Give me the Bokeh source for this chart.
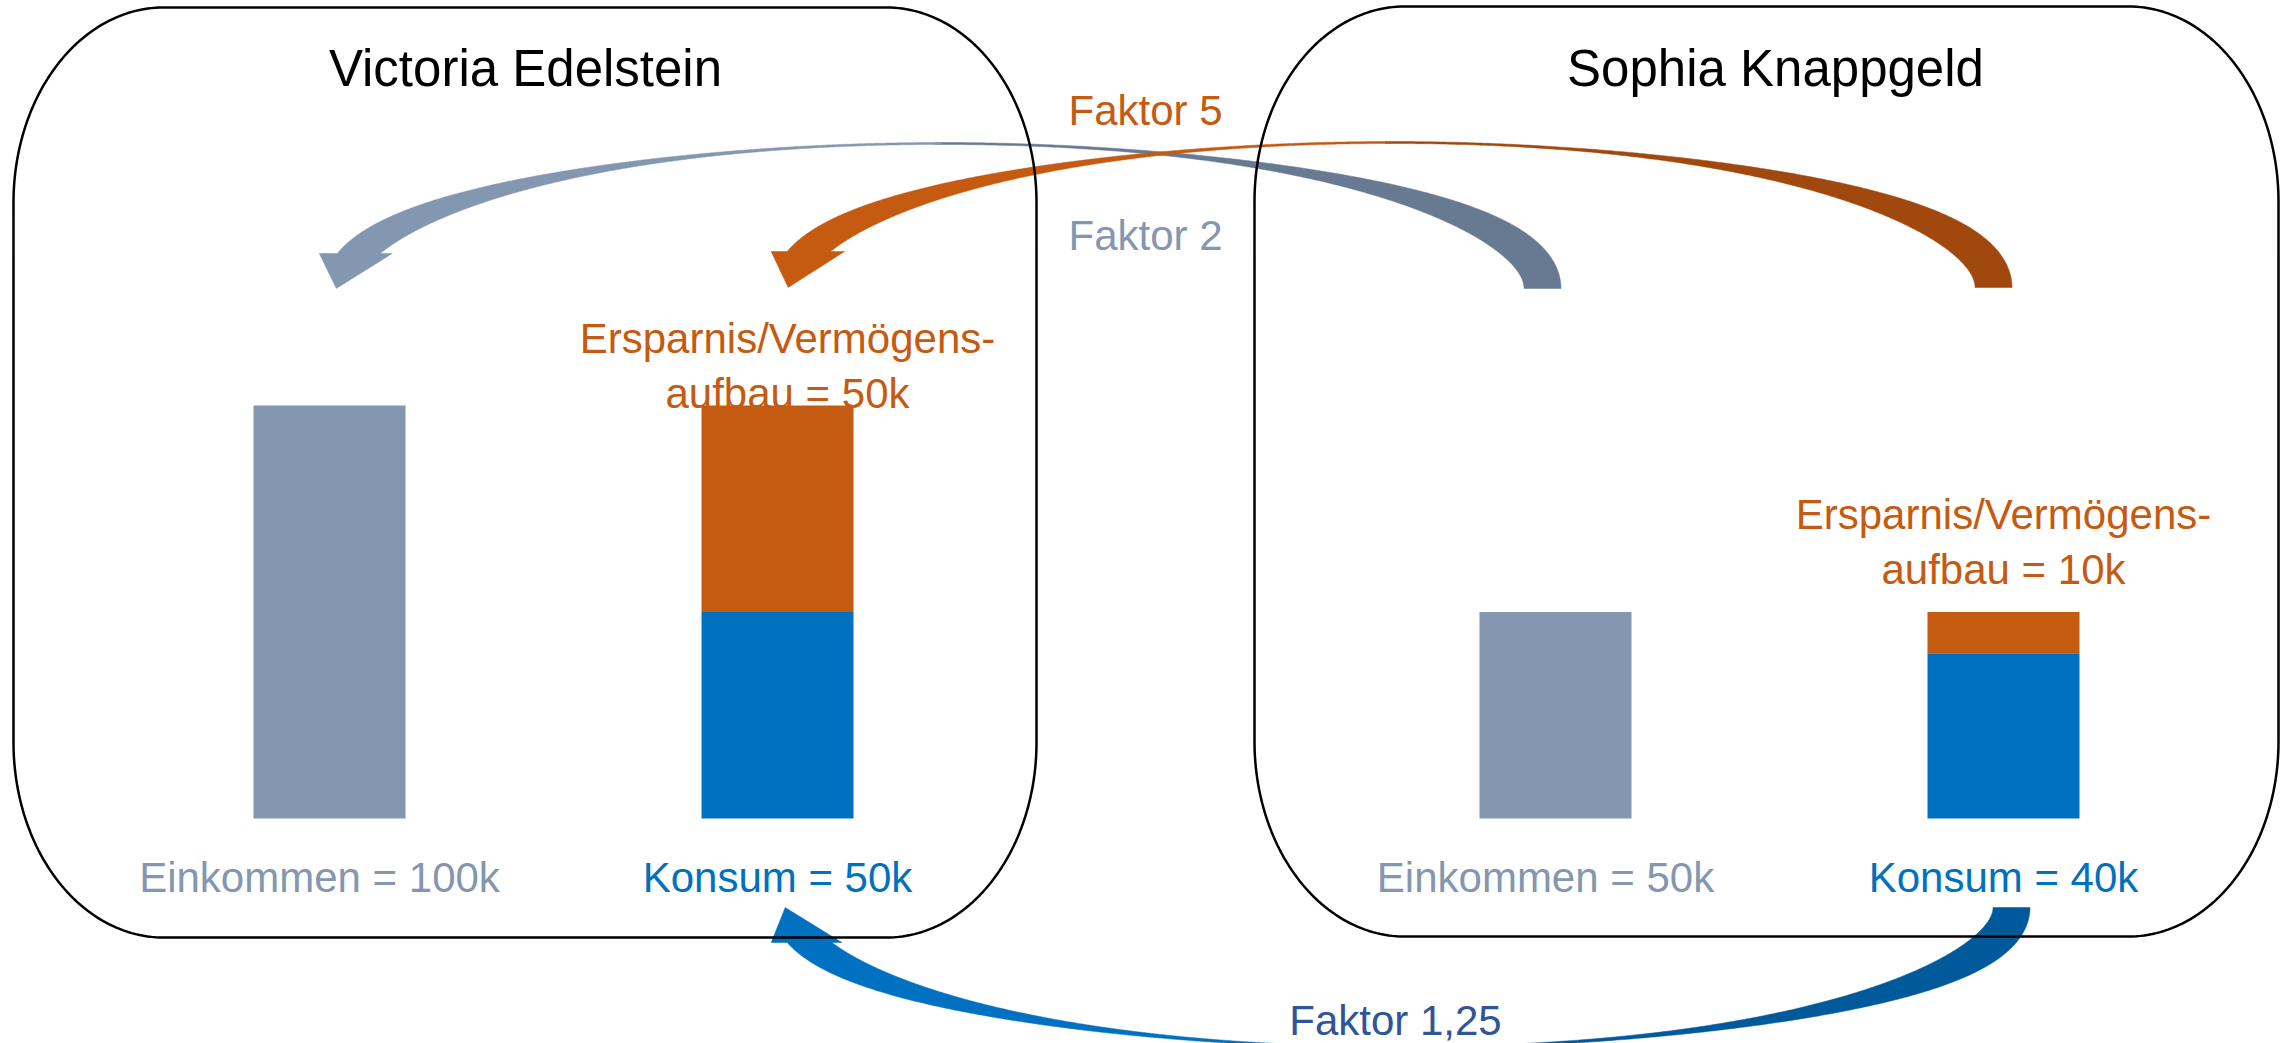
import numpy as np
from bokeh.plotting import figure
from bokeh.models import Range1d
from bokeh.core.properties import value
from bokeh.embed import file_html
from bokeh.resources import INLINE

# ---------------- data ----------------
persons = ["Victoria Edelstein", "Sophia Knappgeld"]
einkommen = [100, 50]          # k
konsum = [50, 40]              # k
ersparnis = [50, 10]           # k
factor_labels = ["Faktor 5", "Faktor 2", "Faktor 1,25"]

# ---------------- layout / style ----------------
FONT = value("Liberation Sans")
GREY, GREY_D = "#8497B0", "#687A92"
ORANGE, ORANGE_D = "#C55A11", "#A0480E"
BLUE, BLUE_D = "#0070C0", "#00599A"
NAVY = "#2F5597"

W, H = 2286, 1043
BASE_PIX, PIX_PER_K = 818.0, 4.13
ein_x = [329, 1555]
kon_x = [777, 2003]
bar_w = 152

p = figure(width=W, height=H, output_backend="svg", toolbar_location=None,
           x_range=Range1d(0, W), y_range=Range1d(H, 0),
           x_axis_type=None, y_axis_type=None, min_border=0,
           background_fill_color="white", border_fill_color="white")
p.outline_line_color = None
p.grid.visible = False
p.extra_y_ranges = {"val": Range1d(start=(BASE_PIX - H) / PIX_PER_K,
                                   end=BASE_PIX / PIX_PER_K)}


def arrow(cx, base, a, b, sgn, w0, w_tail, w_head, k, head_dy, hl, hr, tip_dx):
    def edges(theta, w1):
        c, s = np.cos(theta), np.sin(theta)
        xc = cx + a * c
        nx, ny = c / a, s / b
        nn = np.hypot(nx, ny)
        nx, ny = nx / nn, ny / nn
        w = w0 + (w1 - w0) * np.abs(c) ** k
        xo = xc + w / 2 * nx
        yo = base + sgn * (b * s + w / 2 * ny)
        xi = xc - w / 2 * nx
        yi = base + sgn * (b * s - w / 2 * ny)
        return xo, yo, xi, yi

    def trunc(x, y):
        d = sgn * (y - base)
        idx = np.where(d < head_dy)[0]
        if len(idx) == 0:
            return x, y
        j = idx[0]
        t = (d[j - 1] - head_dy) / (d[j - 1] - d[j])
        xe = x[j - 1] + t * (x[j] - x[j - 1])
        return np.append(x[:j], xe), np.append(y[:j], base + sgn * head_dy)

    th = np.linspace(0, np.pi / 2 + 0.01, 240)
    xo, yo, xi, yi = edges(th, w_tail)
    tail = (np.concatenate([xo, xi[::-1]]), np.concatenate([yo, yi[::-1]]))

    th = np.linspace(np.pi / 2, np.pi - np.arcsin(5 / b), 600)
    xo, yo, xi, yi = edges(th, w_head)
    xo, yo = trunc(xo, yo)
    xi, yi = trunc(xi, yi)
    hy = base + sgn * head_dy
    hx = [xo[-1] - hl, xo[-1] + tip_dx, xi[-1] + hr]
    head = (np.concatenate([xo, hx, xi[::-1]]),
            np.concatenate([yo, [hy, base, hy], yi[::-1]]))
    return head, tail


arrows = [
    (arrow(941, 288, 601, 145, -1, 2, 37, 33, 3.2, 35, 18, 12, -1), GREY, GREY_D),
    (arrow(1391, 287, 602, 145, -1, 2, 37, 33, 3.2, 36, 16, 14, 1), ORANGE, ORANGE_D),
    (arrow(1400, 907, 611, 140, 1, 2, 37, 33, 3.2, 35, 16, 10, -2), BLUE, BLUE_D),
]
for (head, tail), c1, c2 in arrows:
    p.patch(tail[0], tail[1], fill_color=c2, line_color=c2, line_width=0.5)
    p.patch(head[0], head[1], fill_color=c1, line_color=c1, line_width=0.5)


def rrect(x0, x1, y0, y1, rx, ry, n=60):
    xs, ys = [], []
    corners = [(x1 - rx, y0 + ry, -np.pi / 2, 0), (x1 - rx, y1 - ry, 0, np.pi / 2),
               (x0 + rx, y1 - ry, np.pi / 2, np.pi), (x0 + rx, y0 + ry, np.pi, 1.5 * np.pi)]
    for cx, cy, a0, a1 in corners:
        a = np.linspace(a0, a1, n)
        xs.extend(cx + rx * np.cos(a)); ys.extend(cy + ry * np.sin(a))
    xs.append(xs[0]); ys.append(ys[0])
    return xs, ys


for bx in [(13, 1036, 7, 937), (1254, 2278, 6, 936)]:
    xs, ys = rrect(*bx, 150, 195)
    p.line(xs, ys, line_color="black", line_width=2.5, line_join="round")

# ---------------- bars ----------------
p.vbar(x=ein_x, top=einkommen, bottom=0, width=bar_w, fill_color=GREY,
       line_color=None, y_range_name="val")
p.vbar(x=kon_x, top=konsum, bottom=0, width=bar_w, fill_color=BLUE,
       line_color=None, y_range_name="val")
p.vbar(x=kon_x, top=[k + e for k, e in zip(konsum, ersparnis)], bottom=konsum,
       width=bar_w, fill_color=ORANGE, line_color=None, y_range_name="val")

# ---------------- texts ----------------
def txt(x, y, t, color, size):
    p.text(x=x, y=y, text=t, text_color=color, text_font=FONT,
           text_font_size=value(size), text_align="center",
           text_baseline="alphabetic")

txt([525, 1775], [68, 68], persons, "black", "51px")
txt([x - 10 for x in ein_x], [877, 877], [f"Einkommen = {v}k" for v in einkommen], GREY, "42px")
txt(kon_x, [877, 877], [f"Konsum = {v}k" for v in konsum], BLUE, "42px")
txt([787, 2003], [338, 514], ["Ersparnis/Vermögens-"] * 2, ORANGE, "42px")
txt([787, 2003], [393, 569], [f"aufbau = {v}k" for v in ersparnis], ORANGE, "42px")
txt([1145], [110], [factor_labels[0]], ORANGE, "42px")
txt([1145], [235], [factor_labels[1]], GREY, "42px")
txt([1395], [1020], [factor_labels[2]], NAVY, "42px")

open("out.html", "w").write(file_html(p, INLINE))
